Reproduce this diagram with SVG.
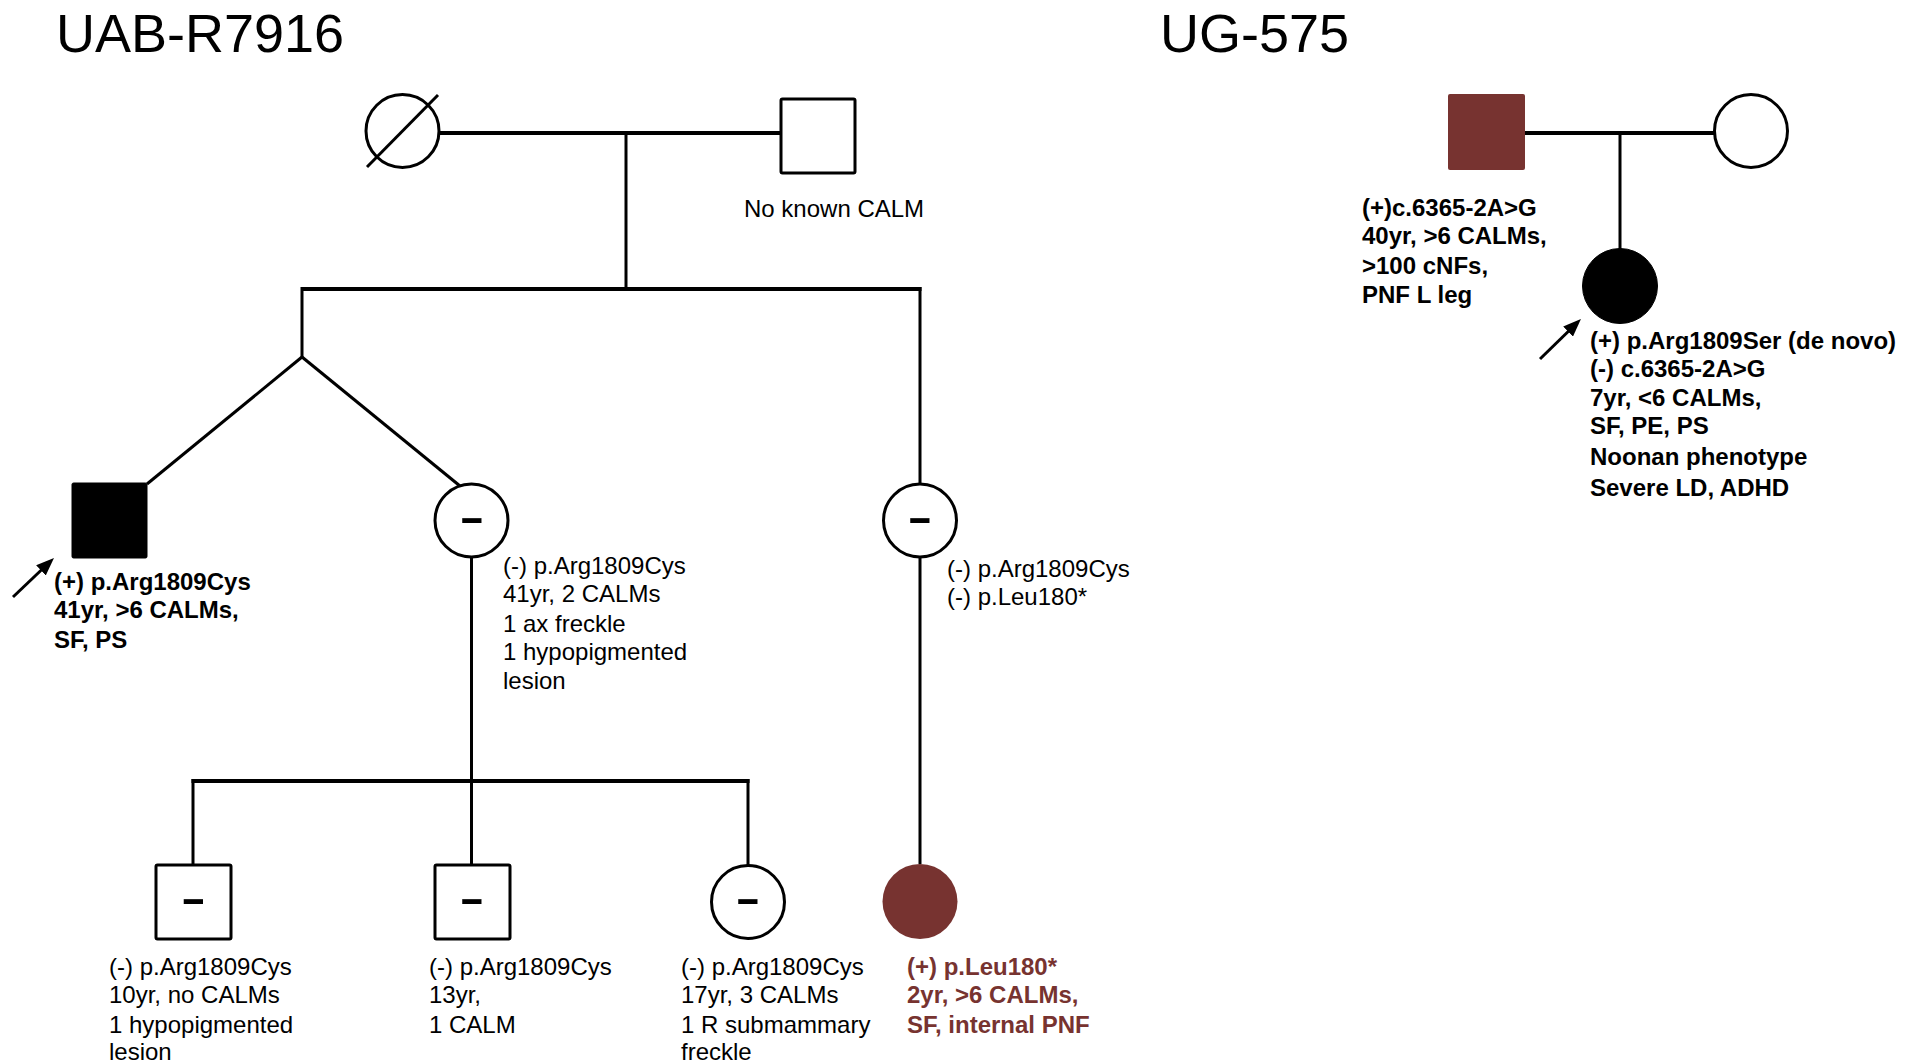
<svg xmlns="http://www.w3.org/2000/svg" width="1923" height="1064" viewBox="0 0 1923 1064">
<style>
  .bg{fill:#ffffff}
  .ln{stroke:#000;stroke-width:3;fill:none}
  .mar{stroke:#000;stroke-width:4;fill:none}
  .open{fill:#fff;stroke:#000;stroke-width:3}
  .blk{fill:#000;stroke:#000;stroke-width:1}
  .red{fill:#773330;stroke:none}
  .title{font-family:"Liberation Sans",Arial,sans-serif;font-size:54px;fill:#000}
  .t{font-family:"Liberation Sans",Arial,sans-serif;font-size:24px;fill:#000}
  .b{font-family:"Liberation Sans",Arial,sans-serif;font-size:24px;font-weight:bold;fill:#000}
  .rb{font-family:"Liberation Sans",Arial,sans-serif;font-size:24px;font-weight:bold;fill:#773330}
  .minus{font-family:"Liberation Sans",Arial,sans-serif;font-size:40px;font-weight:bold;fill:#000;text-anchor:middle}
  .arr{stroke:#000;stroke-width:3;fill:none}
</style>
<defs>
  <marker id="ah" viewBox="0 0 18 14" refX="2" refY="7" markerWidth="18" markerHeight="14" orient="auto" markerUnits="userSpaceOnUse">
    <path d="M0,0 L18,7 L0,14 z" fill="#000"/>
  </marker>
</defs>
<rect class="bg" x="0" y="0" width="1923" height="1064"/>

<text class="title" x="56" y="52">UAB-R7916</text>
<text class="title" x="1160" y="52">UG-575</text>

<g id="connectors">
  <!-- UAB family -->
  <line class="mar" x1="440" y1="133" x2="781" y2="133"/>
  <line class="ln" x1="626" y1="133" x2="626" y2="289"/>
  <line class="mar" x1="302" y1="289" x2="921.5" y2="289"/>
  <line class="ln" x1="302" y1="287" x2="302" y2="357"/>
  <line class="ln" x1="302" y1="357" x2="147" y2="484"/>
  <line class="ln" x1="302" y1="357" x2="460" y2="486"/>
  <line class="ln" x1="920" y1="287" x2="920" y2="483"/>
  <line class="ln" x1="920" y1="558" x2="920" y2="864"/>
  <line class="ln" x1="471.5" y1="558" x2="471.5" y2="865"/>
  <line class="mar" x1="191.5" y1="781" x2="749.5" y2="781"/>
  <line class="ln" x1="193" y1="779" x2="193" y2="865"/>
  <line class="ln" x1="748" y1="779" x2="748" y2="865"/>
  <!-- UG family -->
  <line class="mar" x1="1525" y1="133" x2="1714" y2="133"/>
  <line class="ln" x1="1620" y1="133" x2="1620" y2="249"/>
  <!-- proband arrows -->
  <line class="arr" x1="13" y1="597" x2="42.4" y2="569" marker-end="url(#ah)"/>
  <line class="arr" x1="1540" y1="359" x2="1569.5" y2="330.2" marker-end="url(#ah)"/>
</g>

<g id="uab-I-1">
  <circle class="open" cx="402.5" cy="131" r="36.5"/>
  <line class="ln" x1="367" y1="167" x2="438" y2="95"/>
</g>

<g id="uab-I-2">
  <rect class="open" x="781" y="99" width="74" height="74" rx="1.5"/>
  <text class="t" x="744" y="217">No known CALM</text>
</g>

<g id="uab-II-1">
  <rect class="blk" x="72" y="483" width="75" height="75" rx="1.5"/>
  <text class="b" x="54" y="590">(+) p.Arg1809Cys</text>
  <text class="b" x="54" y="618">41yr, &gt;6 CALMs,</text>
  <text class="b" x="54" y="648">SF, PS</text>
</g>

<g id="uab-II-2">
  <circle class="open" cx="471.5" cy="520.5" r="36.5"/>
  <text class="minus" transform="translate(472 531) scale(1.9 1)">-</text>
  <text class="t" x="503" y="574">(-) p.Arg1809Cys</text>
  <text class="t" x="503" y="602">41yr, 2 CALMs</text>
  <text class="t" x="503" y="632">1 ax freckle</text>
  <text class="t" x="503" y="660">1 hypopigmented</text>
  <text class="t" x="503" y="689">lesion</text>
</g>

<g id="uab-II-3">
  <circle class="open" cx="920" cy="520.5" r="36.5"/>
  <text class="minus" transform="translate(920 531) scale(1.9 1)">-</text>
  <text class="t" x="947" y="577">(-) p.Arg1809Cys</text>
  <text class="t" x="947" y="605">(-) p.Leu180*</text>
</g>

<g id="uab-III-1">
  <rect class="open" x="156" y="865" width="75" height="74" rx="1.5"/>
  <text class="minus" transform="translate(193.5 912) scale(1.9 1)">-</text>
  <text class="t" x="109" y="975">(-) p.Arg1809Cys</text>
  <text class="t" x="109" y="1003">10yr, no CALMs</text>
  <text class="t" x="109" y="1033">1 hypopigmented</text>
  <text class="t" x="109" y="1060">lesion</text>
</g>

<g id="uab-III-2">
  <rect class="open" x="435" y="865" width="75" height="74" rx="1.5"/>
  <text class="minus" transform="translate(472 912) scale(1.9 1)">-</text>
  <text class="t" x="429" y="975">(-) p.Arg1809Cys</text>
  <text class="t" x="429" y="1003">13yr,</text>
  <text class="t" x="429" y="1033">1 CALM</text>
</g>

<g id="uab-III-3">
  <circle class="open" cx="748" cy="902" r="36.5"/>
  <text class="minus" transform="translate(748 912) scale(1.9 1)">-</text>
  <text class="t" x="681" y="975">(-) p.Arg1809Cys</text>
  <text class="t" x="681" y="1003">17yr, 3 CALMs</text>
  <text class="t" x="681" y="1033">1 R submammary</text>
  <text class="t" x="681" y="1060">freckle</text>
</g>

<g id="uab-III-4">
  <circle class="red" cx="920" cy="901.5" r="37.5"/>
  <text class="rb" x="907" y="975">(+) p.Leu180*</text>
  <text class="rb" x="907" y="1003">2yr, &gt;6 CALMs,</text>
  <text class="rb" x="907" y="1033">SF, internal PNF</text>
</g>

<g id="ug-father">
  <rect class="red" x="1448" y="94" width="77" height="76" rx="2"/>
  <text class="b" x="1362" y="216">(+)c.6365-2A&gt;G</text>
  <text class="b" x="1362" y="244">40yr, &gt;6 CALMs,</text>
  <text class="b" x="1362" y="274">&gt;100 cNFs,</text>
  <text class="b" x="1362" y="303">PNF L leg</text>
</g>

<g id="ug-mother">
  <circle class="open" cx="1751" cy="131" r="36.5"/>
</g>

<g id="ug-proband">
  <circle class="blk" cx="1620" cy="286" r="37.5"/>
  <text class="b" x="1590" y="349">(+) p.Arg1809Ser (de novo)</text>
  <text class="b" x="1590" y="377">(-) c.6365-2A&gt;G</text>
  <text class="b" x="1590" y="406">7yr, &lt;6 CALMs,</text>
  <text class="b" x="1590" y="434">SF, PE, PS</text>
  <text class="b" x="1590" y="465">Noonan phenotype</text>
  <text class="b" x="1590" y="496">Severe LD, ADHD</text>
</g>
</svg>
